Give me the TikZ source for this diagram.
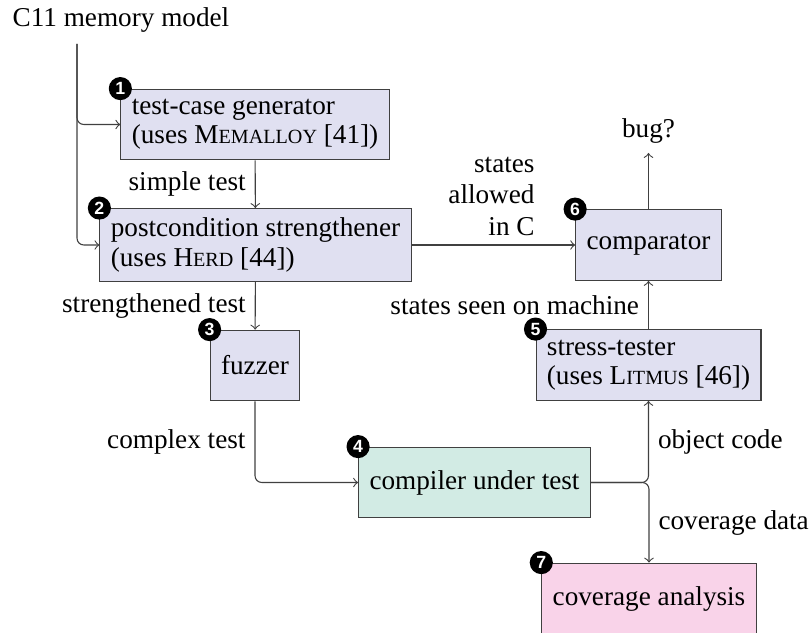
\documentclass[tikz,border=0pt]{standalone}
\usepackage{fontspec}
\setmainfont{Liberation Serif}
\newfontfamily\badgefont{Liberation Sans}

\definecolor{stageFill}{RGB}{224,224,241}
\definecolor{compileFill}{RGB}{210,235,228}
\definecolor{coverFill}{RGB}{249,211,233}

% tool names in (faked) small capitals
\newcommand{\toolname}[2]{#1{\fontsize{7.4}{8}\selectfont #2}}

\begin{document}
\begin{tikzpicture}
[x=0.3676pt,y=-0.3676pt,
  boxDecorate/.style={shape=rectangle,draw=black!75,inner xsep=4pt,inner ysep=3.5pt,
    minimum height=26pt,align=left,font=\fontsize{10}{10.7}\selectfont},
  badgeDecorate/.style={shape=circle,fill=black,text=white,inner sep=0pt,
    minimum size=8.5pt,font=\badgefont\bfseries\fontsize{6.5}{6.5}\selectfont},
  lineDecorate/.style={->,draw=black!75,rounded corners=2.5pt},
  labelDecorate/.style={inner sep=3.3pt,font=\fontsize{10}{11.6}\selectfont}]
\useasboundingbox (0,0) rectangle (811,633);
%% input and output
\node (model) at (121,27) [anchor=base] {C11 memory model};
\coordinate (src) at (77,44);
\node (bug) at (648.5,131) {bug?};
%% stages of the tool chain
\foreach \nodename/\x/\y/\tint/\txt in {
  gen/255/124.5/stageFill/{test-case generator\\(uses \toolname{M}{EMALLOY} [41])},
  strength/255.5/245/stageFill/{postcondition strengthener\\(uses \toolname{H}{ERD} [44])},
  fuzz/255/365.5/stageFill/{fuzzer},
  cut/474.5/482.5/compileFill/{compiler under test},
  stress/648.5/365/stageFill/{stress-tester\\(uses \toolname{L}{ITMUS} [46])},
  cmp/648.5/245/stageFill/{comparator},
  cov/649/598.5/coverFill/{coverage analysis}}
{
  \node (\nodename) at (\x,\y) [boxDecorate,fill=\tint] {\txt};
}
%% step numbers
\foreach \nodename/\num in {gen/1, strength/2, fuzz/3, cut/4, stress/5, cmp/6, cov/7}
{
  \node (badge\num) at (\nodename.north west) [badgeDecorate] {\num};
}
%% data flow
\draw[lineDecorate] (src) |- (gen);
\draw[lineDecorate] (src) |- (strength);
\draw[lineDecorate] (gen) -- node[labelDecorate,left] {simple test} (strength);
\draw[lineDecorate] (strength) -- node[labelDecorate,left] {strengthened test} (fuzz);
\draw[lineDecorate] (strength) -- node[labelDecorate,align=right,anchor=south east,pos=0.81]
  {states\\allowed\\in C} (cmp);
\draw[lineDecorate] (fuzz) |- node[labelDecorate,left,pos=0.25] {complex test} (cut);
\draw[lineDecorate] (stress) -- node[labelDecorate,left] {states seen on machine} (cmp);
\draw[lineDecorate] (cmp) -- (bug);
\draw[lineDecorate] (cut) -| node[labelDecorate,right,pos=0.75] {object code} (stress);
\draw[lineDecorate] (cut) -| node[labelDecorate,right,pos=0.75] {coverage data} (cov);
\end{tikzpicture}
\end{document}
